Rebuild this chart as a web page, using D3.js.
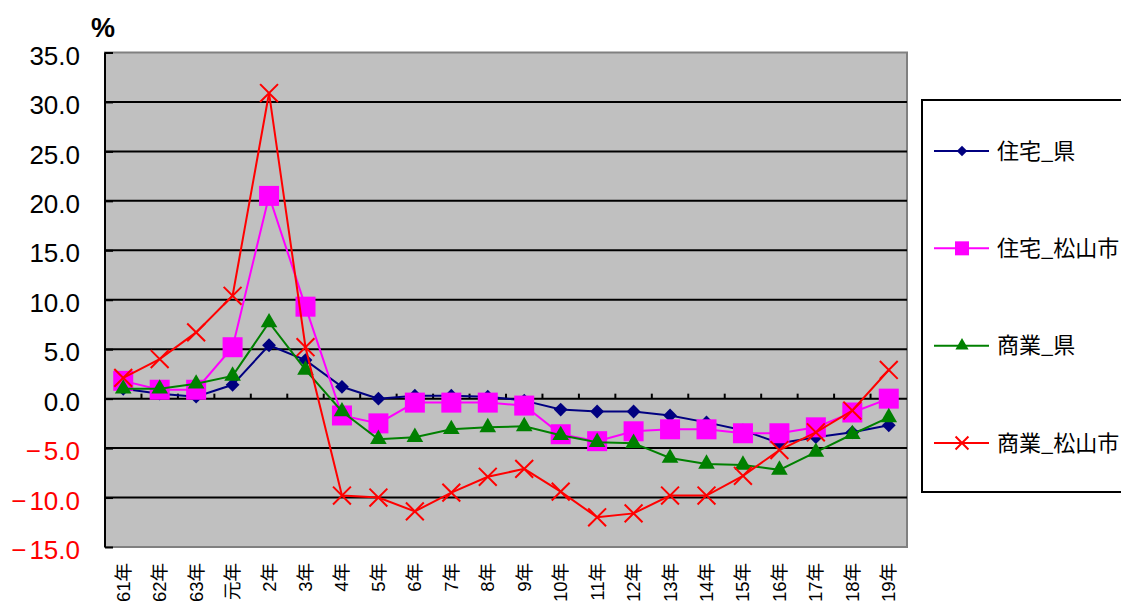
<!DOCTYPE html>
<html lang="ja">
<head>
<meta charset="utf-8">
<title>地価変動率</title>
<script src="https://cdn.jsdelivr.net/npm/d3@7"></script>
<style>
  html, body { margin: 0; padding: 0; background: #fff; overflow: hidden; }
  svg { display: block; }
</style>
</head>
<body>
<svg id="chart"></svg>
<script>
const years = ["61年","62年","63年","元年","2年","3年","4年","5年","6年","7年","8年","9年",
               "10年","11年","12年","13年","14年","15年","16年","17年","18年","19年"]

const jutakuKen = [1.0, 0.5, 0.2, 1.4, 5.4, 3.9, 1.2, 0.0, 0.3, 0.3, 0.2, -0.2,
                   -1.1, -1.3, -1.3, -1.7, -2.4, -3.2, -4.5, -3.9, -3.4, -2.7]
const jutakuShi = [1.8, 0.9, 0.9, 5.2, 20.5, 9.3, -1.7, -2.5, -0.4, -0.4, -0.4, -0.7,
                   -3.6, -4.3, -3.3, -3.1, -3.1, -3.5, -3.5, -2.9, -1.4, 0.0]
const shogyoKen = [1.0, 1.0, 1.5, 2.3, 7.7, 2.9, -1.3, -4.1, -3.9, -3.1, -2.9, -2.8,
                   -3.7, -4.4, -4.5, -6.0, -6.6, -6.7, -7.2, -5.4, -3.6, -1.9]
const shogyoShi = [2.1, 4.0, 6.7, 10.4, 30.9, 5.2, -9.8, -10.0, -11.4, -9.5, -7.9, -7.1,
                   -9.4, -12.0, -11.6, -9.8, -9.8, -7.8, -5.2, -3.4, -1.2, 2.9]

const yTicks = [35, 30, 25, 20, 15, 10, 5, 0, -5, -10, -15]

const series = [
    {name: "住宅_県", values: jutakuKen, color: "#000080", shape: "diamond"},
    {name: "住宅_松山市", values: jutakuShi, color: "#ff00ff", shape: "square"},
    {name: "商業_県", values: shogyoKen, color: "#008000", shape: "triangle"},
    {name: "商業_松山市", values: shogyoShi, color: "#ff0000", shape: "x"}
]

const width = 1121
const height = 607
const margin = {top: 52.5, right: 214, bottom: 60, left: 105}

const svg = d3.select("#chart")
    .attr("width", width)
    .attr("height", height)

const x = d3.scaleBand()
    .domain(years)
    .range([margin.left, width - margin.right])
    .padding(0)

const y = d3.scaleLinear()
    .domain([-15, 35])
    .range([height - margin.bottom, margin.top])

const cx = d => x(d) + x.bandwidth() / 2

const markerPath = (shape, big) => {
    if (shape === "diamond") return d3.symbol(d3.symbolSquare, big ? 95 : 55)()
    if (shape === "square") return d3.symbol(d3.symbolSquare, big ? 400 : 196)()
    if (shape === "triangle") return d3.symbol(d3.symbolTriangle, big ? 120 : 75)()
    return d3.symbol(d3.symbolX, big ? 210 : 110)()
}

// plot background
svg.append("rect")
    .attr("x", x.range()[0])
    .attr("y", y(35))
    .attr("width", x.range()[1] - x.range()[0])
    .attr("height", y(-15) - y(35))
    .attr("fill", "#c0c0c0")
    .attr("stroke", "#808080")
    .attr("stroke-width", 2)

// gridlines
svg.append("g")
    .selectAll("line")
    .data(yTicks.filter(t => t !== 35 && t !== -15 && t !== 0))
    .join("line")
    .attr("x1", x.range()[0])
    .attr("x2", x.range()[1])
    .attr("y1", d => y(d))
    .attr("y2", d => y(d))
    .attr("stroke", "#000")
    .attr("stroke-width", 2)

// y axis
const yAxis = svg.append("g")
    .attr("transform", `translate(${margin.left},0)`)
    .call(d3.axisRight(y).tickValues(yTicks).tickSize(8).tickFormat(""))
yAxis.select(".domain").attr("stroke-width", 2).attr("d", `M0,${y(35)}V${y(-15)}`)
yAxis.selectAll(".tick line").attr("stroke-width", 2)

const yLabels = svg.append("g")
    .attr("font-family", "'Liberation Sans', Arial, sans-serif")
    .attr("font-size", 26)
    .attr("text-anchor", "end")
    .selectAll("text")
    .data(yTicks)
    .join("text")
    .attr("x", 80)
    .attr("y", d => y(d) + 3)
    .attr("dy", "0.35em")
    .attr("fill", d => d < 0 ? "#ff0000" : "#000")

// wider minus as in the original
yLabels.filter(d => d < 0).append("tspan").attr("dx", 0).text("\u2212")
yLabels.append("tspan")
    .attr("dx", d => d < 0 ? 3 : 0)
    .text(d => Math.abs(d).toFixed(1))

svg.append("text")
    .attr("x", 103)
    .attr("y", 37)
    .attr("text-anchor", "middle")
    .attr("font-family", "'Liberation Sans', Arial, sans-serif")
    .attr("font-size", 27)
    .attr("font-weight", "bold")
    .text("%")

// x axis at zero
const xAxis = svg.append("g")
    .attr("transform", `translate(0,${y(0)})`)
    .call(d3.axisTop(x).tickSize(0).tickFormat(""))
xAxis.select(".domain").attr("stroke-width", 2).attr("d", `M${x.range()[0]},0H${x.range()[1]}`)
xAxis.append("g")
    .selectAll("line")
    .data(years.slice(1))
    .join("line")
    .attr("x1", d => x(d))
    .attr("x2", d => x(d))
    .attr("y1", 0)
    .attr("y2", -5)
    .attr("stroke", "#000")
    .attr("stroke-width", 2)

// category labels at bottom
svg.append("g")
    .attr("font-family", "'Liberation Sans', 'Noto Sans CJK JP', sans-serif")
    .attr("font-size", 18.5)
    .attr("text-anchor", "end")
    .selectAll("text")
    .data(years)
    .join("text")
    .attr("transform", d => `translate(${cx(d)},${y(-15) + 16}) rotate(-90)`)
    .attr("dy", "0.35em")
    .text(d => d)

// lines and markers
const line = d3.line()
    .x((d, i) => cx(years[i]))
    .y(d => y(d))

series.forEach(s => {
    svg.append("path")
        .datum(s.values)
        .attr("fill", "none")
        .attr("stroke", s.color)
        .attr("stroke-width", 2)
        .attr("d", line)

    svg.append("g")
        .selectAll("path")
        .data(s.values)
        .join("path")
        .attr("transform", (d, i) => `translate(${cx(years[i])},${y(d)})` + (s.shape === "diamond" ? " rotate(45)" : ""))
        .attr("d", markerPath(s.shape, true))
        .attr("fill", s.shape === "x" ? "none" : s.color)
        .attr("stroke", s.shape === "x" ? s.color : "none")
        .attr("stroke-width", 2)
})

// legend
const legend = svg.append("g")
legend.append("rect")
    .attr("x", 922)
    .attr("y", 100)
    .attr("width", 230)
    .attr("height", 392)
    .attr("fill", "#fff")
    .attr("stroke", "#000")
    .attr("stroke-width", 2)

const legendY = d3.scalePoint()
    .domain(series.map(s => s.name))
    .range([151, 443])

const item = legend.selectAll("g.item")
    .data(series)
    .join("g")
    .attr("class", "item")
    .attr("transform", d => `translate(0,${legendY(d.name)})`)

item.append("line")
    .attr("x1", 934)
    .attr("x2", 989)
    .attr("stroke", d => d.color)
    .attr("stroke-width", 2)

item.append("path")
    .attr("transform", d => `translate(962,0)` + (d.shape === "diamond" ? " rotate(45)" : ""))
    .attr("d", d => markerPath(d.shape, false))
    .attr("fill", d => d.shape === "x" ? "none" : d.color)
    .attr("stroke", d => d.shape === "x" ? d.color : "none")
    .attr("stroke-width", 2)

item.append("text")
    .attr("x", 997)
    .attr("dy", "0.35em")
    .attr("font-family", "'Noto Sans CJK JP', sans-serif")
    .attr("font-size", 22)
    .text(d => d.name)
</script>
</body>
</html>
